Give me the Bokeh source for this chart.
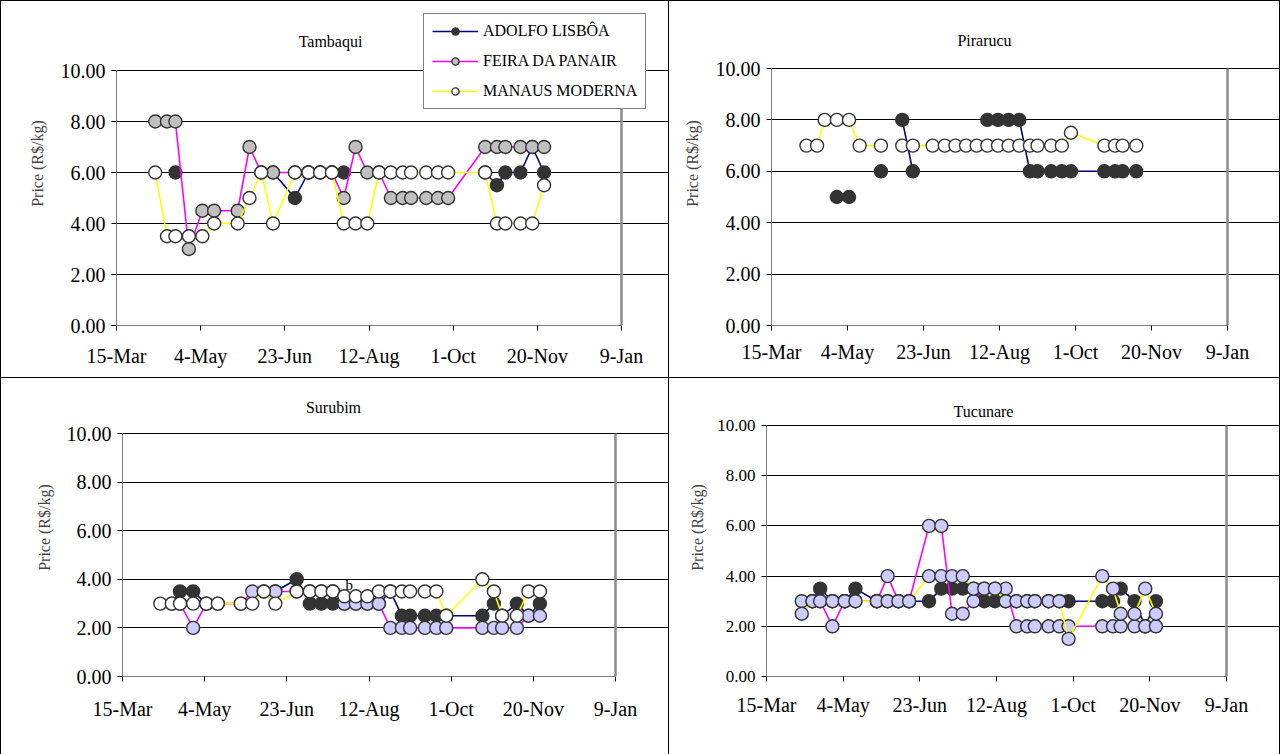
import datetime as dt
from bokeh.plotting import figure
from bokeh.models import (Range1d, FixedTicker, Label, Legend, LegendItem,
                          NumeralTickFormatter, Spacer)
from bokeh.layouts import column, row
from bokeh.embed import file_html
from bokeh.resources import INLINE

# ---------------- data ----------------
ORIGIN = "2003-03-15"
DATES = ["2003-04-07", "2003-04-14", "2003-04-19", "2003-04-27", "2003-05-05", "2003-05-12",
         "2003-05-26", "2003-06-02", "2003-06-09", "2003-06-16", "2003-06-29", "2003-07-07",
         "2003-07-14", "2003-07-21", "2003-07-28", "2003-08-04", "2003-08-11", "2003-08-18",
         "2003-08-25", "2003-09-01", "2003-09-06", "2003-09-15", "2003-09-22", "2003-09-28",
         "2003-10-20", "2003-10-27", "2003-11-01", "2003-11-10", "2003-11-17", "2003-11-24"]
TICK_DATES = ["2003-03-15", "2003-05-04", "2003-06-23", "2003-08-12", "2003-10-01", "2003-11-20", "2004-01-09"]
TICK_LABELS = ["15-Mar", "4-May", "23-Jun", "12-Aug", "1-Oct", "20-Nov", "9-Jan"]
Y_TICKS = [0, 2, 4, 6, 8, 10]
SERIES_NAMES = ["ADOLFO LISBÔA", "FEIRA DA PANAIR", "MANAUS MODERNA"]
N = None

TAMBAQUI_ADOLFO = [N, N, 6, N, N, N, N, N, N, 6, 5, 6, 6, 6, 6, N, N, N, N, N, N, N, N, N, 6, 5.5, 6, 6, 7, 6]
TAMBAQUI_FEIRA = [8, 8, 8, 3, 4.5, 4.5, 4.5, 7, 6, 6, 6, 6, 6, 6, 5, 7, 6, 6, 5, 5, 5, 5, 5, 5, 7, 7, 7, 7, 7, 7]
TAMBAQUI_MANAUS = [6, 3.5, 3.5, 3.5, 3.5, 4, 4, 5, 6, 4, 6, 6, 6, 6, 4, 4, 4, 6, 6, 6, 6, 6, 6, 6, 6, 4, 4, 4, 4, 5.5]

PIRARUCU_ADOLFO = [N, N, N, 5, 5, N, 6, N, 8, 6, N, N, N, N, N, 8, 8, 8, 8, 6, 6, 6, 6, 6, 6, 6, 6, 6, N, N]
PIRARUCU_MANAUS = [7, 7, 8, 8, 8, 7, 7, N, 7, 7, 7, 7, 7, 7, 7, 7, 7, 7, 7, 7, 7, 7, 7, 7.5, 7, 7, 7, 7, N, N]

SURUBIM_ADOLFO = [N, 3, 3.5, 3.5, 3, N, N, N, N, 3.5, 4, 3, 3, 3, 3, 3, 3, 3, 3.5, 2.5, 2.5, 2.5, 2.5, 2.5, 2.5, 3, 2.5, 3, 2.5, 3]
SURUBIM_FEIRA = [N, N, 3, 2, 3, 3, 3, 3.5, 3.5, 3.5, 3.5, 3.5, 3.5, 3.5, 3, 3, 3, 3, 2, 2, 2, 2, 2, 2, 2, 2, 2, 2, 2.5, 2.5]
SURUBIM_MANAUS = [3, 3, 3, 3, 3, 3, 3, 3, 3.5, 3, 3.5, 3.5, 3.5, 3.5, 3.3, 3.3, 3.3, 3.5, 3.5, 3.5, 3.5, 3.5, 3.5, 2.5, 4, 3.5, 2.5, 2.5, 3.5, 3.5]

TUCUNARE_ADOLFO = [N, 3, 3.5, 3, 3, 3.5, 3, 3, 3, 3, 3, 3.5, 3.5, 3.5, 3.5, 3, 3, 3, 3, 3, 3, 3, 3, 3, 3, 3, 3.5, 3, 2, 3]
TUCUNARE_FEIRA = [3, 3, 3, 2, 3, 3, 3, 4, 3, 3, 6, 6, 2.5, 2.5, 3, 3.5, 3.5, 3.5, 2, 2, 2, 2, 2, 2, 2, 2, 2, 2, 2, 2]
TUCUNARE_MANAUS = [2.5, 3, 3, 3, 3, 3, 3, 3, 3, 3, 4, 4, 4, 4, 3.5, 3.5, 3.5, 3, 3, 3, 3, 3, 3, 1.5, 4, 3.5, 2.5, 2.5, 3.5, 2.5]

# ---------------- styling ----------------
FONT = "Liberation Serif"
LINE_COLORS = ["#000080", "#FF00FF", "#FFFF00"]
ADOLFO_FILL = "#333333"
GRAY_FILL = "#C0C0C0"
LAV_FILL = "#CCCCFF"
WHITE_FILL = "#FFFFFF"
EDGE = "#333333"


def days(s):
    return (dt.date.fromisoformat(s) - dt.date.fromisoformat(ORIGIN)).days


X = [days(d) for d in DATES]
XT = [days(d) for d in TICK_DATES]
X0, X1 = XT[0], XT[-1]
Y0, Y1 = Y_TICKS[0], Y_TICKS[-1]


def clean(v):
    return [float("nan") if a is None else a for a in v]


def panel(title, cw, ch, area, series, ysize, xsize, xstand, lab_stand, title_px, legend_px=None):
    # area = (left, top, width, bottom) of the plot area, in pixels inside the cell
    left, top, width, bottom = area
    yend = Y1 * bottom / (bottom - top)
    xend = X0 + (X1 - X0) * (cw - left) / width
    p = figure(width=cw, height=ch, output_backend="svg", toolbar_location=None,
               x_range=Range1d(X0, xend), y_range=Range1d(Y0, yend),
               min_border_left=left, min_border_top=0, min_border_right=0,
               min_border_bottom=ch - bottom,
               background_fill_color="white", border_fill_color="white")
    p.title.visible = False
    p.outline_line_color = None
    p.xgrid.visible = False
    p.ygrid.ticker = FixedTicker(ticks=Y_TICKS)
    p.ygrid.grid_line_color = "black"
    p.ygrid.grid_line_width = 1
    p.ygrid.bounds = (X0, X1)
    p.yaxis.ticker = FixedTicker(ticks=Y_TICKS)
    p.yaxis.formatter = NumeralTickFormatter(format="0.00")
    p.yaxis.bounds = (Y0, Y1)
    p.xaxis.ticker = FixedTicker(ticks=XT)
    p.xaxis.bounds = (X0, X1)
    p.xaxis.major_label_overrides = {x: l for x, l in zip(XT, TICK_LABELS)}
    for ax in (p.xaxis[0], p.yaxis[0]):
        ax.axis_line_color = None
        ax.major_tick_line_color = "black"
        ax.major_tick_out = 5
        ax.major_tick_in = 0
        ax.minor_tick_out = 0
        ax.minor_tick_in = 0
        ax.major_label_text_font = FONT
        ax.major_label_text_color = "black"
    p.yaxis.major_label_text_font_size = f"{ysize}px"
    p.xaxis.major_label_text_font_size = f"{xsize}px"
    p.yaxis.major_label_standoff = 6
    p.xaxis.major_label_standoff = xstand
    p.yaxis.axis_label = "Price (R$/kg)"
    p.yaxis.axis_label_text_font = FONT
    p.yaxis.axis_label_text_font_style = "normal"
    p.yaxis.axis_label_text_font_size = "16px"
    p.yaxis.axis_label_standoff = lab_stand

    # Excel plot-area edges: gray right border, black axis lines
    p.segment(x0=[X1], y0=[Y0], x1=[X1], y1=[Y1], line_color="#8C8C8C", line_width=2.5)
    p.segment(x0=[X0, X0], y0=[Y0, Y0], x1=[X0, X1], y1=[Y1, Y0], line_color="black", line_width=1)

    items = []
    for name, color, (vals, fill) in zip(SERIES_NAMES, LINE_COLORS, series):
        if vals is None:
            continue
        y = clean(vals)
        lr = p.line(X, y, line_color=color, line_width=1.6)
        sr = p.scatter(X, y, size=13, fill_color=fill, line_color=EDGE, line_width=1.4)
        items.append(LegendItem(label=name, renderers=[lr, sr]))

    def to_data(px, py):
        return (X0 + (px - left) * (X1 - X0) / width, (bottom - py) * Y1 / (bottom - top))

    tx, ty = to_data(*title_px)
    p.add_layout(Label(x=tx, y=ty, text=title, text_font=FONT, text_font_size="16px",
                       text_color="black", text_align="center", text_baseline="middle"))
    if legend_px is not None:
        lx, lyb = legend_px
        lg = Legend(items=items, location=(lx - left, bottom - lyb), orientation="vertical",
                    label_text_font=FONT, label_text_font_size="16px", label_text_color="black",
                    glyph_width=46, glyph_height=18, label_height=18, spacing=12, padding=8,
                    label_standoff=5, margin=0, border_line_color="black", border_line_width=1,
                    background_fill_color="white", background_fill_alpha=1)
        p.add_layout(lg, "center")
    return p


p1 = panel("Tambaqui", 667, 376, (115, 69, 505, 324),
           [(TAMBAQUI_ADOLFO, ADOLFO_FILL), (TAMBAQUI_FEIRA, GRAY_FILL), (TAMBAQUI_MANAUS, WHITE_FILL)],
           20, 20, 14, 12, (329, 40), legend_px=(422, 108))
p2 = panel("Pirarucu", 610, 376, (102, 67, 456, 324),
           [(PIRARUCU_ADOLFO, ADOLFO_FILL), (None, None), (PIRARUCU_MANAUS, WHITE_FILL)],
           20, 20, 10, 12, (315, 39))
p3 = panel("Surubim", 667, 376, (121, 55, 493, 298),
           [(SURUBIM_ADOLFO, ADOLFO_FILL), (SURUBIM_FEIRA, LAV_FILL), (SURUBIM_MANAUS, WHITE_FILL)],
           20, 20, 16, 11, (332, 29))
p3.add_layout(Label(x=138, y=3.75, text="b", text_font=FONT, text_font_size="15px",
                    text_color="black", text_align="center", text_baseline="middle"))
p4 = panel("Tucunare", 610, 376, (97, 47, 460, 298),
           [(TUCUNARE_ADOLFO, ADOLFO_FILL), (TUCUNARE_FEIRA, LAV_FILL), (TUCUNARE_MANAUS, LAV_FILL)],
           17, 20, 12, 8, (314, 33))


def vbar(h):
    return Spacer(width=1, height=h, styles={"background-color": "black"})


def hbar(w):
    return Spacer(width=w, height=1, styles={"background-color": "black"})


TOTAL_W = 1 + 667 + 1 + 610 + 1
layout = column(hbar(TOTAL_W),
                row(vbar(376), p1, vbar(376), p2, vbar(376), spacing=0),
                hbar(TOTAL_W),
                row(vbar(376), p3, vbar(376), p4, vbar(376), spacing=0),
                spacing=0)

open("out.html", "w").write(file_html(layout, INLINE))
